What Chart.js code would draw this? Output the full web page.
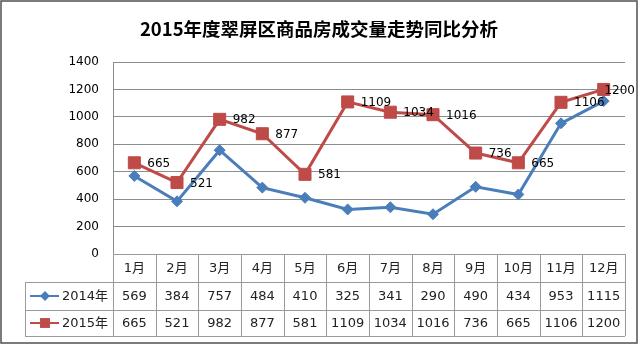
<!DOCTYPE html>
<html>
<head>
<meta charset="utf-8">
<script src="https://cdn.jsdelivr.net/npm/chart.js@4/dist/chart.umd.min.js"></script>
<style>
  body { margin: 0; background: #fff; }
  #wrap { width: 640px; height: 345px; }
</style>
</head>
<body>
<div id="wrap"><canvas id="salesChart"></canvas></div>
<script>
const months = ["1月", "2月", "3月", "4月", "5月", "6月", "7月", "8月", "9月", "10月", "11月", "12月"];
const sales2014 = [569, 384, 757, 484, 410, 325, 341, 290, 490, 434, 953, 1115];
const sales2015 = [665, 521, 982, 877, 581, 1109, 1034, 1016, 736, 665, 1106, 1200];
const seriesNames = ["2014年", "2015年"];
const seriesColors = ["#4a7ebb", "#be4b48"];
const seriesPoints = ["rectRot", "rect"];
const chartTitle = "2015年度翠屏区商品房成交量走势同比分析";

const FONT = "'DejaVu Sans', 'Noto Sans CJK SC', sans-serif";

// value labels to the right of the 2015 markers
const valueLabels = {
  id: "valueLabels",
  afterDatasetsDraw(chart) {
    const ctx = chart.ctx;
    const meta = chart.getDatasetMeta(1);
    ctx.save();
    ctx.font = "12px " + FONT;
    ctx.fillStyle = "#000";
    ctx.textBaseline = "middle";
    ctx.textAlign = "left";
    meta.data.forEach((pt, i) => {
      const text = String(sales2015[i]);
      const w = ctx.measureText(text).width;
      const lx = Math.min(pt.x + 13, chart.width - 5 - w);
      ctx.fillText(text, lx, pt.y + 1);
    });
    ctx.restore();
  }
};

// title, data table under the plot, and the outer frame
const dataTable = {
  id: "dataTable",
  afterDraw(chart) {
    const { ctx, chartArea } = chart;
    const x = chart.scales.x;
    const colW = chartArea.width / months.length;
    const top = Math.round(chartArea.bottom);
    const rowY = [top, top + 28, top + 56, top + 82];
    const legendLeft = 25;
    const left = Math.round(chartArea.left);
    const right = Math.round(chartArea.right);

    ctx.save();
    ctx.font = "bold 18.5px 'Noto Sans CJK SC', sans-serif";
    ctx.fillStyle = "#000";
    ctx.textAlign = "center";
    ctx.textBaseline = "middle";
    ctx.fillText(chartTitle, 319, 29);

    ctx.strokeStyle = "#9a9a9a";
    ctx.lineWidth = 1;
    ctx.beginPath();
    // header row spans only the month columns
    ctx.moveTo(left, rowY[0] + 0.5);
    ctx.lineTo(right, rowY[0] + 0.5);
    for (let r = 1; r < rowY.length; r++) {
      ctx.moveTo(legendLeft, rowY[r] + 0.5);
      ctx.lineTo(right, rowY[r] + 0.5);
    }
    ctx.moveTo(legendLeft + 0.5, rowY[1]);
    ctx.lineTo(legendLeft + 0.5, rowY[3]);
    for (let c = 0; c <= months.length; c++) {
      const cx = Math.round(left + c * colW) + 0.5;
      ctx.moveTo(cx, rowY[0]);
      ctx.lineTo(cx, rowY[3]);
    }
    ctx.stroke();

    ctx.font = "13px " + FONT;
    ctx.fillStyle = "#222";
    months.forEach((m, i) => {
      const cx = x.getPixelForValue(i);
      ctx.fillText(m, cx, (rowY[0] + rowY[1]) / 2 + 1);
      ctx.fillText(String(sales2014[i]), cx, (rowY[1] + rowY[2]) / 2 + 1);
      ctx.fillText(String(sales2015[i]), cx, (rowY[2] + rowY[3]) / 2 + 1);
    });

    // legend keys in the first column
    seriesNames.forEach((name, s) => {
      const cy = (rowY[s + 1] + rowY[s + 2]) / 2;
      ctx.strokeStyle = seriesColors[s];
      ctx.lineWidth = 2;
      ctx.beginPath();
      ctx.moveTo(30, cy);
      ctx.lineTo(59, cy);
      ctx.stroke();
      ctx.fillStyle = seriesColors[s];
      Chart.helpers.drawPoint(ctx, { pointStyle: seriesPoints[s], radius: s ? 7 : 5, rotation: 0, borderWidth: 0 }, 45, cy);
      ctx.fillStyle = "#222";
      ctx.textAlign = "left";
      ctx.fillText(name, 62, cy + 1);
    });

    ctx.strokeStyle = "#505050";
    ctx.lineWidth = 1.5;
    ctx.strokeRect(1, 1, chart.width - 4, chart.height - 3);
    ctx.restore();
  }
};

new Chart(document.getElementById("salesChart"), {
  type: "line",
  data: {
    labels: months,
    datasets: [
      {
        label: seriesNames[0],
        data: sales2014,
        borderColor: seriesColors[0],
        backgroundColor: seriesColors[0],
        borderWidth: 3,
        pointStyle: seriesPoints[0],
        pointRadius: 5.5,
        pointBorderWidth: 1,
        tension: 0
      },
      {
        label: seriesNames[1],
        data: sales2015,
        borderColor: seriesColors[1],
        backgroundColor: seriesColors[1],
        borderWidth: 3,
        pointStyle: seriesPoints[1],
        pointRadius: 8.5,
        pointBorderWidth: 1,
        tension: 0
      }
    ]
  },
  options: {
    responsive: true,
    maintainAspectRatio: false,
    animation: false,
    layout: { padding: { top: 62, right: 15, bottom: 91, left: 0 } },
    plugins: {
      legend: { display: false },
      tooltip: { enabled: false }
    },
    scales: {
      x: {
        display: false,
        offset: true
      },
      y: {
        min: 0,
        max: 1400,
        afterFit(scale) { scale.width = 113; },
        ticks: {
          stepSize: 200,
          padding: 14,
          color: "#000",
          font: { family: FONT, size: 12 },
          callback: (v) => String(v)
        },
        grid: { color: "#8c8c8c", drawTicks: false },
        border: { color: "#8c8c8c" }
      }
    }
  },
  plugins: [valueLabels, dataTable]
});
</script>
</body>
</html>
